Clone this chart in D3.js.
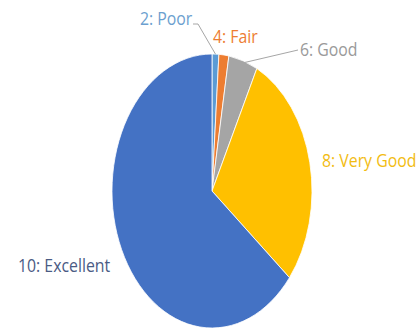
<!DOCTYPE html>
<html><head><meta charset="utf-8">
<script src="https://cdn.jsdelivr.net/npm/d3@7"></script>
<style>body{margin:0;background:#fff}</style>
</head><body>
<svg id="c" width="420" height="332"></svg>
<script>
// Data
const categories = ["2: Poor", "4: Fair", "6: Good", "8: Very Good", "10: Excellent"];
const values = [1.1, 1.6, 4.7, 28.5, 64.1];
const colors = ["#5B9BD5", "#ED7D31", "#A5A5A5", "#FFC000", "#4472C4"];
const labelColors = ["#6C9FCF", "#ED7D31", "#9A9A9A", "#F2BC12", "#4A5B84"];

// Layout (not data)
const cx = 212, cy = 191, R = 137, sx = 0.73;
const labelPos = [[140, 25, "start"], [213, 43, "start"], [300, 56, "start"], [322, 167, "start"], [18, 272, "start"]];

const svg = d3.select("#c");
const pie = d3.pie().sort(null).value(d => d)(values);
const arc = d3.arc().innerRadius(0).outerRadius(R);

const g = svg.append("g").attr("transform", `translate(${cx},${cy}) scale(${sx},1)`);
g.selectAll("path").data(pie).join("path")
  .attr("d", arc)
  .attr("fill", (d, i) => colors[i])
  .attr("stroke", "#fff").attr("stroke-width", 0.8)
  .attr("vector-effect", "non-scaling-stroke");

function edgePoint(d) {
  const a = (d.startAngle + d.endAngle) / 2;
  return [cx + sx * R * Math.sin(a), cy - R * Math.cos(a)];
}
const p0 = edgePoint(pie[0]);
svg.append("polyline")
  .attr("points", `193,24 198,24 ${p0[0]},${p0[1]}`)
  .attr("fill", "none").attr("stroke", "#A6A6A6").attr("stroke-width", 1);
const p2 = edgePoint(pie[2]);
svg.append("line")
  .attr("x1", 298).attr("y1", 50).attr("x2", p2[0]).attr("y2", p2[1] + 2)
  .attr("stroke", "#A6A6A6").attr("stroke-width", 1);

svg.selectAll("text.lbl").data(categories).join("text")
  .attr("class", "lbl")
  .attr("transform", (d, i) => `translate(${labelPos[i][0]},${labelPos[i][1]}) scale(0.88,1)`)
  .attr("text-anchor", (d, i) => labelPos[i][2])
  .attr("fill", (d, i) => labelColors[i])
  .attr("font-family", "Open Sans, sans-serif")
  .attr("font-size", 18)
  .text(d => d);
</script>
</body></html>
